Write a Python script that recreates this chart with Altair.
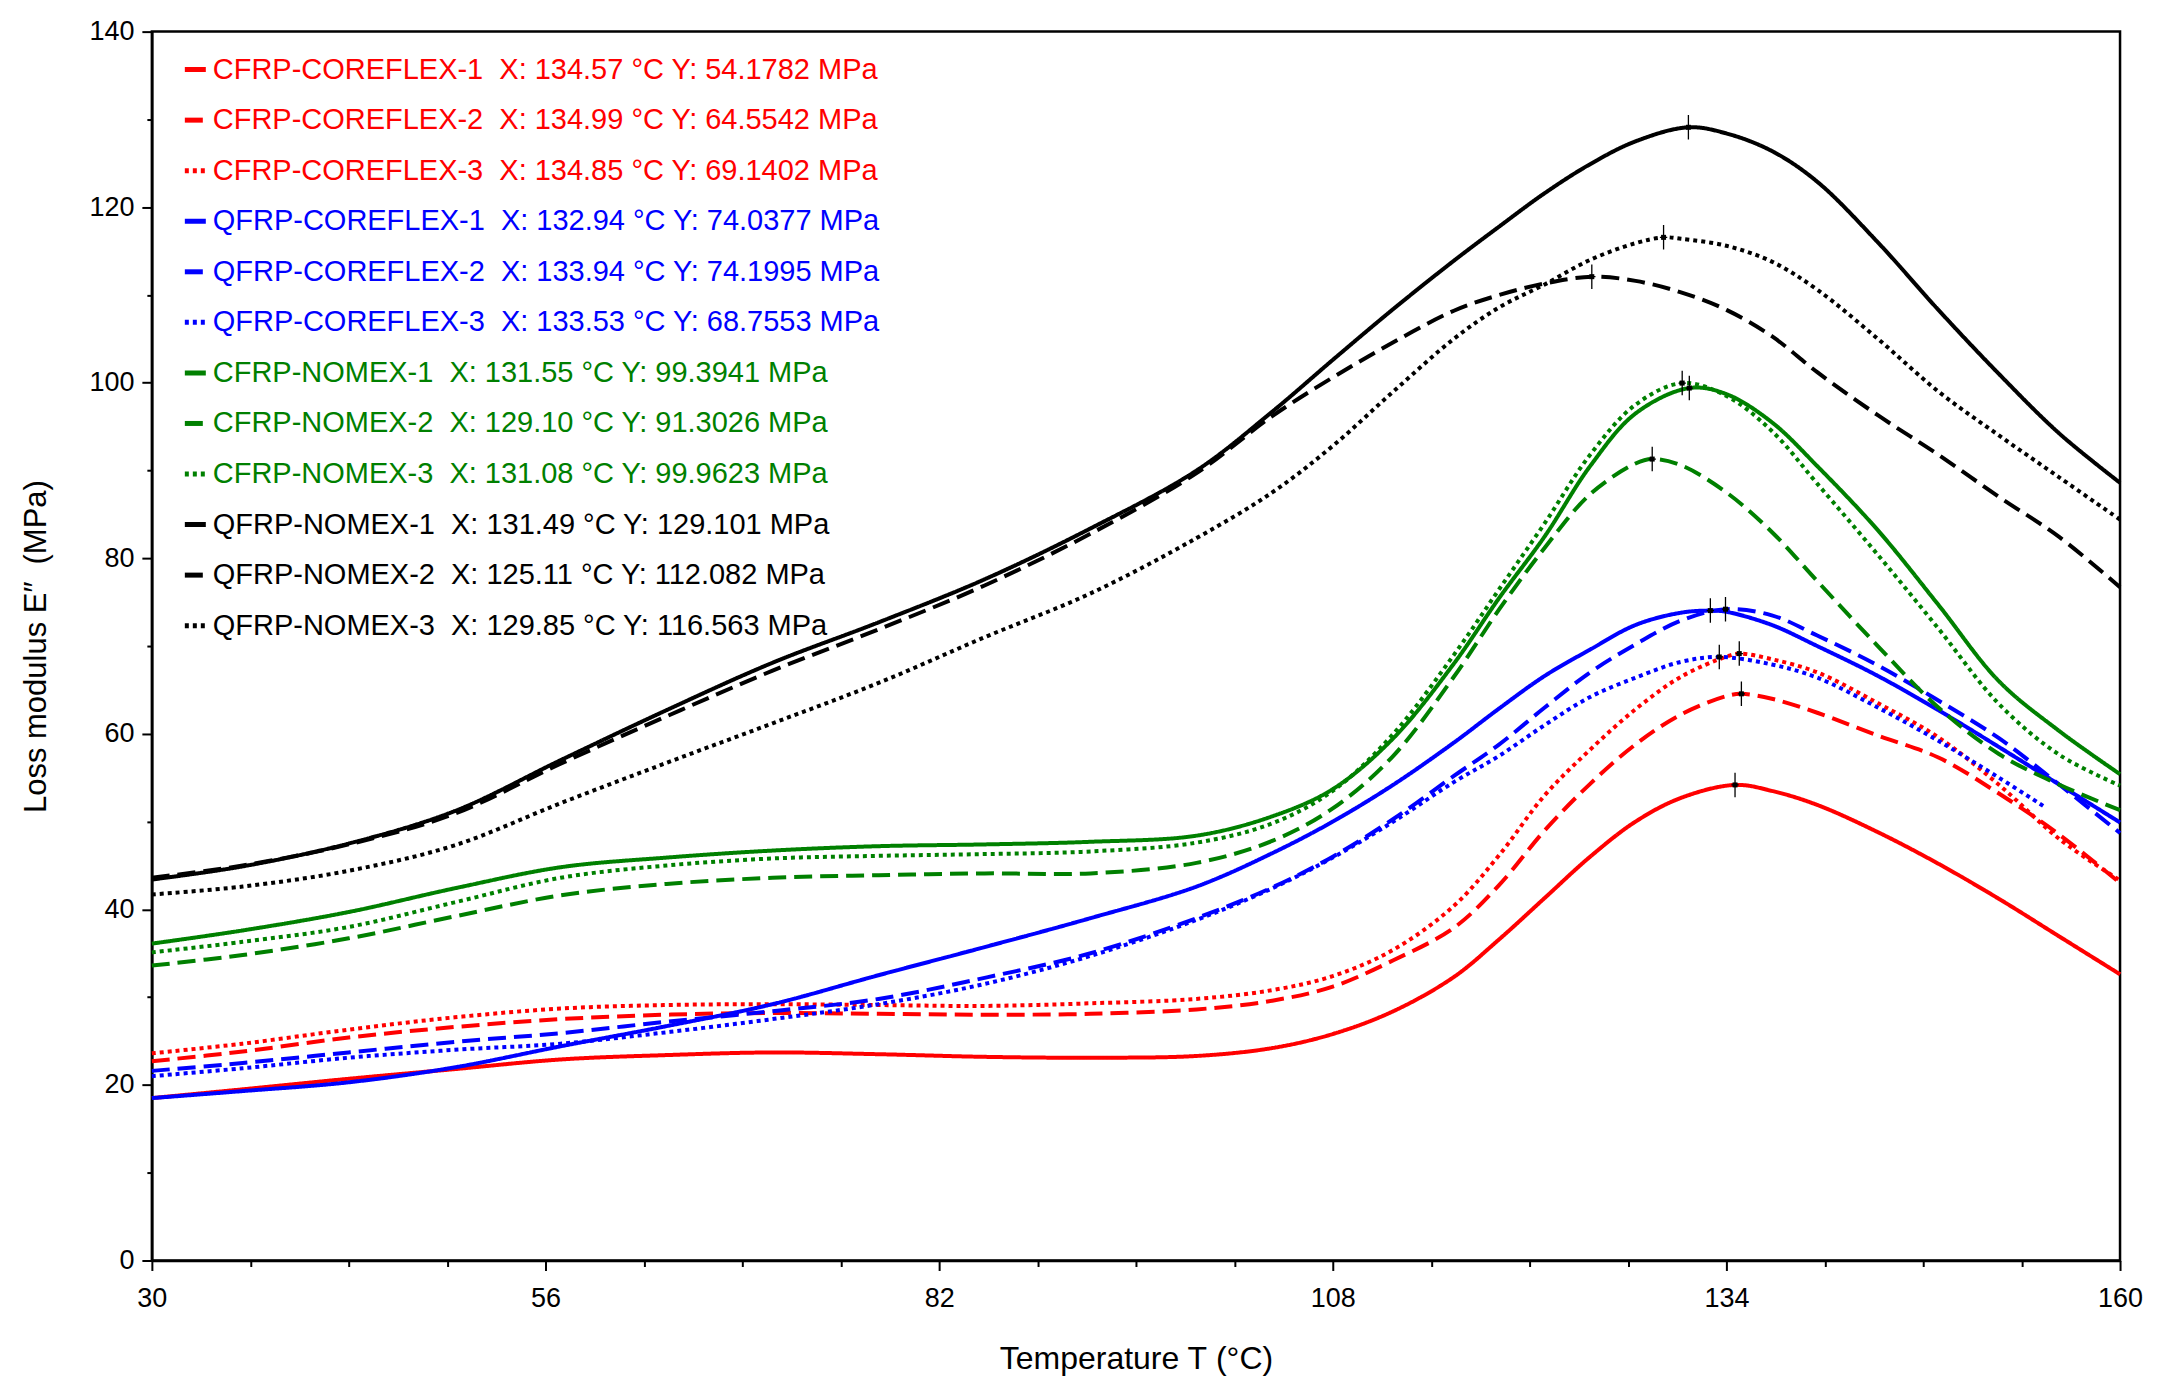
import altair as alt
import pandas as pd

FONT = "Liberation Sans"

temps = [30, 36, 43, 50, 57, 64, 71, 78, 85, 92, 99, 104, 108, 112, 116, 119,
         122, 125, 128, 131, 134, 137, 140, 144, 148, 152, 156, 160]
temps_qc3 = [30, 36, 43, 50, 57, 64, 71, 78, 85, 92, 99, 104, 108, 112, 116, 119,
             122, 125, 128, 131, 134, 137, 140, 144, 148, 152, 155]

# loss modulus E'' (MPa)
cfrp_coreflex_1 = [18.5, 19.5, 20.7, 21.8, 22.9, 23.4, 23.7, 23.5, 23.2, 23.1, 23.3, 24.2, 25.8, 28.4,
                   32.3, 36.6, 41.3, 46.0, 50.0, 52.7, 54.1, 53.5, 51.9, 48.8, 45.2, 41.2, 36.9, 32.6]
cfrp_coreflex_2 = [22.7, 23.8, 25.4, 26.6, 27.5, 28.0, 28.2, 28.1, 28.0, 28.1, 28.6, 29.6, 31.2, 34.2,
                   37.9, 42.8, 49.0, 54.3, 58.8, 62.2, 64.3, 64.0, 62.4, 59.8, 57.3, 53.2, 48.5, 43.0]
cfrp_coreflex_3 = [23.6, 24.7, 26.3, 27.7, 28.7, 29.1, 29.2, 29.1, 29.0, 29.3, 29.8, 30.8, 32.4, 35.4,
                   40.4, 46.2, 53.0, 58.2, 62.8, 66.5, 68.8, 68.5, 67.0, 63.5, 59.6, 54.2, 48.0, 43.3]
qfrp_coreflex_1 = [18.5, 19.3, 20.3, 22.0, 24.4, 26.7, 29.2, 32.5, 35.7, 39.0, 42.6, 46.4, 50.0, 54.2,
                   59.0, 62.9, 66.6, 69.6, 72.4, 73.8, 73.9, 72.4, 70.0, 66.6, 62.7, 58.5, 54.2, 49.9]
qfrp_coreflex_2 = [21.6, 22.5, 23.7, 24.9, 25.9, 27.2, 28.4, 29.8, 32.2, 35.0, 39.0, 42.5, 46.0, 50.3,
                   55.2, 58.8, 63.0, 67.0, 70.2, 72.9, 74.2, 73.5, 71.2, 67.8, 63.8, 59.5, 54.2, 48.7]
qfrp_coreflex_3 = [21.0, 21.9, 23.1, 24.0, 24.7, 26.0, 27.5, 29.2, 31.5, 34.7, 38.8, 42.4, 45.9, 50.0,
                   54.5, 57.5, 61.0, 64.2, 66.4, 68.2, 68.7, 67.9, 66.4, 63.0, 59.2, 55.0, 51.7]
cfrp_nomex_1 = [36.1, 37.6, 39.7, 42.4, 44.8, 45.9, 46.7, 47.2, 47.4, 47.7, 48.4, 50.6, 53.7, 59.5,
                68.0, 75.5, 82.5, 90.5, 96.5, 99.3, 98.7, 95.5, 90.5, 83.2, 74.7, 66.0, 60.3, 55.4]
cfrp_nomex_2 = [33.6, 34.8, 36.7, 39.2, 41.6, 42.9, 43.6, 43.9, 44.1, 44.1, 45.3, 47.8, 51.5, 57.5,
                66.5, 74.2, 81.2, 87.3, 90.8, 90.6, 87.5, 83.0, 77.4, 70.0, 63.0, 57.7, 54.2, 51.3]
cfrp_nomex_3 = [35.1, 36.3, 38.0, 40.8, 43.6, 45.0, 45.8, 46.1, 46.3, 46.6, 47.6, 49.8, 53.5, 60.0,
                69.0, 76.5, 84.0, 91.8, 97.5, 99.9, 98.5, 94.5, 88.5, 80.4, 72.0, 63.4, 57.6, 54.1]
qfrp_nomex_1 = [43.4, 44.9, 47.5, 51.2, 57.0, 62.7, 68.1, 72.7, 77.6, 83.4, 90.0, 96.7, 102.6, 108.4,
                113.9, 117.8, 121.6, 124.9, 127.5, 129.0, 128.4, 126.4, 122.9, 116.0, 108.3, 101.0, 94.2, 88.6]
qfrp_nomex_2 = [43.6, 45.0, 47.4, 50.9, 56.6, 62.0, 67.2, 71.9, 76.9, 82.8, 89.7, 96.2, 100.6, 104.6,
                108.2, 110.0, 111.3, 112.0, 111.6, 110.3, 108.3, 105.3, 101.2, 96.3, 91.8, 87.0, 82.4, 76.7]
qfrp_nomex_3 = [41.7, 42.6, 44.4, 47.3, 52.1, 56.7, 61.2, 65.8, 71.0, 76.0, 82.3, 87.5, 92.8, 99.0,
                105.0, 108.6, 111.2, 114.0, 115.9, 116.4, 115.6, 113.8, 110.6, 105.0, 99.0, 94.0, 89.2, 84.4]

names = ["CFRP-COREFLEX-1", "CFRP-COREFLEX-2", "CFRP-COREFLEX-3",
         "QFRP-COREFLEX-1", "QFRP-COREFLEX-2", "QFRP-COREFLEX-3",
         "CFRP-NOMEX-1", "CFRP-NOMEX-2", "CFRP-NOMEX-3",
         "QFRP-NOMEX-1", "QFRP-NOMEX-2", "QFRP-NOMEX-3"]
peak_x_txt = ["134.57", "134.99", "134.85", "132.94", "133.94", "133.53",
              "131.55", "129.10", "131.08", "131.49", "125.11", "129.85"]
peak_y_txt = ["54.1782", "64.5542", "69.1402", "74.0377", "74.1995", "68.7553",
              "99.3941", "91.3026", "99.9623", "129.101", "112.082", "116.563"]
series_vals = [cfrp_coreflex_1, cfrp_coreflex_2, cfrp_coreflex_3,
               qfrp_coreflex_1, qfrp_coreflex_2, qfrp_coreflex_3,
               cfrp_nomex_1, cfrp_nomex_2, cfrp_nomex_3,
               qfrp_nomex_1, qfrp_nomex_2, qfrp_nomex_3]
series_temps = [temps, temps, temps, temps, temps, temps_qc3,
                temps, temps, temps, temps, temps, temps]
colors = ["#ff0000", "#ff0000", "#ff0000", "#0000ff", "#0000ff", "#0000ff",
          "#008000", "#008000", "#008000", "#000000", "#000000", "#000000"]
dashes = [[1, 0], [18, 8], [4, 4]] * 4

NB = "\u00a0"
labels = [f"{n}{NB*2}X: {px} °C Y: {py} MPa" for n, px, py in zip(names, peak_x_txt, peak_y_txt)]

rows = []
for lab, ts, vs, px, py in zip(labels, series_temps, series_vals, peak_x_txt, peak_y_txt):
    pxf, pyf = float(px), float(py)
    pts = [(t, v) for t, v in zip(ts, vs) if abs(t - pxf) >= 0.7]
    pts.append((pxf, pyf))
    pts.sort()
    for t, v in pts:
        rows.append({"T": t, "E": v, "series": lab})
df = pd.DataFrame(rows)

peak_df = pd.DataFrame({"T": [float(v) for v in peak_x_txt],
                        "E": [float(v) for v in peak_y_txt]})

x_scale = alt.Scale(domain=[30, 160], nice=False, zero=False)
y_scale = alt.Scale(domain=[0, 140], nice=False, zero=False)

x_axis = alt.Axis(
    values=[30 + 6.5 * k for k in range(21)],
    labelExpr="datum.value % 26 == 4 ? datum.label : ''",
    tickSize={"condition": {"test": "datum.value % 26 == 4", "value": 10}, "value": 6},
    labelPadding=15, labelFlush=False, labelOverlap=False,
    title=f"Temperature T{NB}(°C)", titlePadding=32, titleFontSize=32,
)
y_axis = alt.Axis(
    values=list(range(0, 141, 10)),
    labelExpr="datum.value % 20 == 0 ? datum.label : ''",
    tickSize={"condition": {"test": "datum.value % 20 == 0", "value": 10}, "value": 5},
    labelPadding=8, labelFlush=False, labelOverlap=False,
    title=f"Loss modulus E\u2033{NB}{NB}(MPa)", titlePadding=36, titleFontSize=31,
)

label_color_expr = ("indexof(datum.label, 'COREFLEX') >= 0 ? "
                    "(indexof(datum.label, 'CFRP') == 0 ? '#ff0000' : '#0000ff') : "
                    "(indexof(datum.label, 'CFRP') == 0 ? '#008000' : '#000000')")

legend = alt.Legend(
    title=None, orient="none", legendX=29, legendY=23.5, columns=1, padding=0,
    symbolType="stroke", symbolSize=441, symbolStrokeWidth=5,
    labelFont=FONT, labelFontSize=29, labelLimit=1500, labelOffset=3,
    rowPadding=20.6, labelColor=alt.ExprRef(expr=label_color_expr),
)

lines = alt.Chart(df).mark_line(strokeWidth=4, interpolate="catmull-rom").encode(
    x=alt.X("T:Q", scale=x_scale, axis=x_axis),
    y=alt.Y("E:Q", scale=y_scale, axis=y_axis),
    color=alt.Color("series:N", scale=alt.Scale(domain=labels, range=colors), legend=legend),
    strokeDash=alt.StrokeDash("series:N", scale=alt.Scale(domain=labels, range=dashes), legend=legend),
)

cross = alt.Chart(peak_df).mark_point(
    shape="M0,-1L0,1M-0.3,0L0.3,0", size=600, filled=False,
    stroke="black", strokeWidth=1.3, opacity=1,
).encode(x="T:Q", y="E:Q")

dot = alt.Chart(peak_df).mark_square(size=25, color="black", opacity=1).encode(x="T:Q", y="E:Q")

chart = alt.layer(lines, cross, dot).properties(
    width=1970, height=1230,
    autosize=alt.AutoSizeParams(type="none"),
    padding={"left": 144, "top": 23, "right": 40, "bottom": 130},
).configure_view(
    stroke="black", strokeWidth=2.5
).configure_axis(
    grid=False, domainColor="black", domainWidth=2.5, tickColor="black", tickWidth=2,
    labelColor="black", titleColor="black", labelFont=FONT, titleFont=FONT,
    labelFontSize=27, titleFontWeight="normal",
)

chart.save("out.html", embed_options={"renderer": "svg", "actions": False})
